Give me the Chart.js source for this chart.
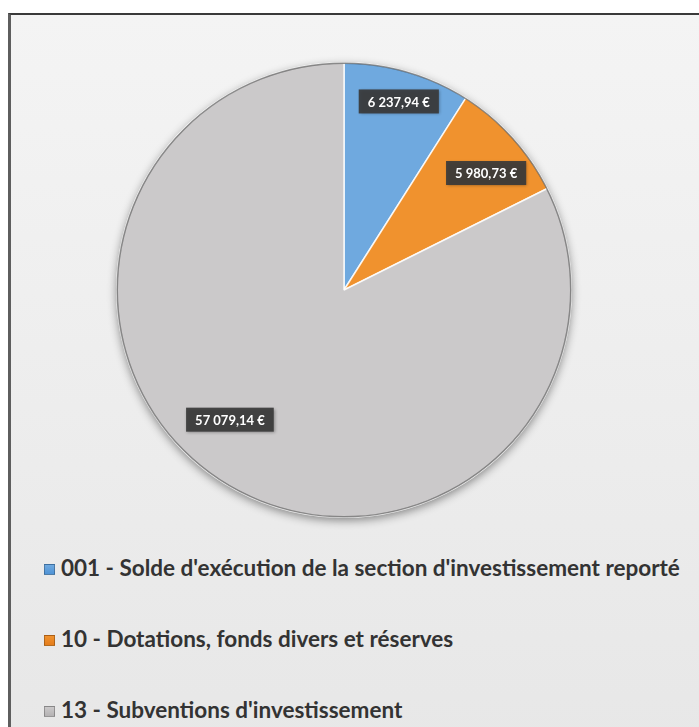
<!DOCTYPE html>
<html><head><meta charset="utf-8">
<script src="https://cdn.jsdelivr.net/npm/chart.js@4.4.1/dist/chart.umd.min.js"></script>
<style>
html,body{margin:0;padding:0;background:#fff;width:699px;height:727px;overflow:hidden;position:relative;}
#frame{position:absolute;left:8px;top:13px;width:720px;height:740px;border-left:3px solid #5e5e5e;border-top:2px solid #3a3a3a;
  background:linear-gradient(180deg,#f4f4f4 0%,#eeeeee 45%,#e7e7e7 100%);}
#chartBox{position:absolute;left:104px;top:50px;width:480px;height:480px;}
#legend{position:absolute;left:44px;top:553px;font-family:"Lato","Open Sans",sans-serif;font-weight:bold;font-size:22.5px;color:#333;}
.item{height:71px;line-height:30px;display:flex;align-items:flex-start;white-space:nowrap;}
.box{width:9px;height:9px;margin:11px 6px 0 0;border:1px solid rgba(0,0,0,0.25);flex:none;}
</style></head>
<body>
<div id="frame"></div>
<div id="chartBox"><canvas id="c"></canvas></div>
<div id="legend"></div>
<script>
const categories = [
  "001 - Solde d'exécution de la section d'investissement reporté",
  "10 - Dotations, fonds divers et réserves",
  "13 - Subventions d'investissement"
];
const amounts = [6237.94, 5980.73, 57079.14];
const sliceColors = ["#6fa9df", "#f0922e", "#cbc9ca"];
const legendColors = ["#4f93d6", "#e47d1c", "#b4b2b3"];

function formatEuro(v){
  const parts = v.toFixed(2).split(".");
  const intPart = parts[0].replace(/\B(?=(\d{3})+(?!\d))/g, " ");
  return intPart + "," + parts[1] + " €";
}

const pieShadow = {
  id: 'pieShadow',
  beforeDatasetsDraw(chart){
    const arc = chart.getDatasetMeta(0).data[0];
    if(!arc) return;
    const ctx = chart.ctx;
    ctx.save();
    ctx.shadowColor = 'rgba(0,0,0,0.45)';
    ctx.shadowBlur = 10; ctx.shadowOffsetX = 0; ctx.shadowOffsetY = 3;
    ctx.beginPath(); ctx.arc(arc.x, arc.y, arc.outerRadius, 0, Math.PI*2);
    ctx.fillStyle = '#c9c7c8'; ctx.fill();
    ctx.restore();
  },
  afterDatasetsDraw(chart){
    const arc = chart.getDatasetMeta(0).data[0];
    if(!arc) return;
    const ctx = chart.ctx;
    ctx.save();
    ctx.beginPath(); ctx.arc(arc.x, arc.y, arc.outerRadius - 0.5, 0, Math.PI*2);
    ctx.strokeStyle = 'rgba(70,70,70,0.6)'; ctx.lineWidth = 1.5; ctx.stroke();
    ctx.restore();
  }
};

const sliceLabels = {
  id: 'sliceLabels',
  afterDatasetsDraw(chart, args, opts){
    const ctx = chart.ctx;
    const meta = chart.getDatasetMeta(0);
    const ds = chart.data.datasets[0];
    meta.data.forEach((arc, i) => {
      const p = arc.getProps(['x','y','startAngle','endAngle','outerRadius'], true);
      const pl = opts.placement[i];
      const mid = (p.startAngle + p.endAngle)/2 + pl.da*Math.PI/180;
      const r = p.outerRadius * pl.f;
      const cx = p.x + Math.cos(mid)*r, cy = p.y + Math.sin(mid)*r;
      const text = formatEuro(ds.data[i]);
      ctx.save();
      ctx.font = opts.font;
      const w = ctx.measureText(text).width + opts.padX*2, h = opts.boxH;
      ctx.shadowColor = 'rgba(0,0,0,0.35)'; ctx.shadowBlur = 3; ctx.shadowOffsetX = 1; ctx.shadowOffsetY = 1;
      ctx.fillStyle = opts.boxColor;
      ctx.fillRect(cx - w/2, cy - h/2, w, h);
      ctx.shadowColor = 'transparent';
      ctx.fillStyle = '#ffffff'; ctx.textAlign = 'center'; ctx.textBaseline = 'middle';
      ctx.fillText(text, cx, cy + 1);
      ctx.restore();
    });
  }
};

const chart = new Chart(document.getElementById('c'), {
  type: 'pie',
  data: {
    labels: categories,
    datasets: [{
      data: amounts,
      backgroundColor: sliceColors,
      borderColor: 'rgba(255,255,255,0.85)',
      borderWidth: 1.5
    }]
  },
  options: {
    responsive: true,
    maintainAspectRatio: false,
    animation: false,
    layout: { padding: 12 },
    plugins: {
      legend: { display: false },
      tooltip: { enabled: false },
      sliceLabels: {
        font: 'bold 13px "Lato", "Open Sans", sans-serif',
        padX: 9, boxH: 24, boxColor: 'rgba(58,58,58,0.92)',
        placement: [{f:0.864, da:0}, {f:0.81, da:2.6}, {f:0.76, da:9.6}]
      }
    }
  },
  plugins: [pieShadow, sliceLabels]
});

// HTML legend built from the chart's own legend items
const legendEl = document.getElementById('legend');
chart.options.plugins.legend.labels.generateLabels(chart).forEach((it, i) => {
  const row = document.createElement('div'); row.className = 'item';
  const b = document.createElement('span'); b.className = 'box';
  b.style.background = 'linear-gradient(180deg,' + sliceColors[i] + ',' + legendColors[i] + ')';
  const t = document.createElement('span'); t.textContent = it.text;
  row.appendChild(b); row.appendChild(t); legendEl.appendChild(row);
});
</script>
</body></html>
